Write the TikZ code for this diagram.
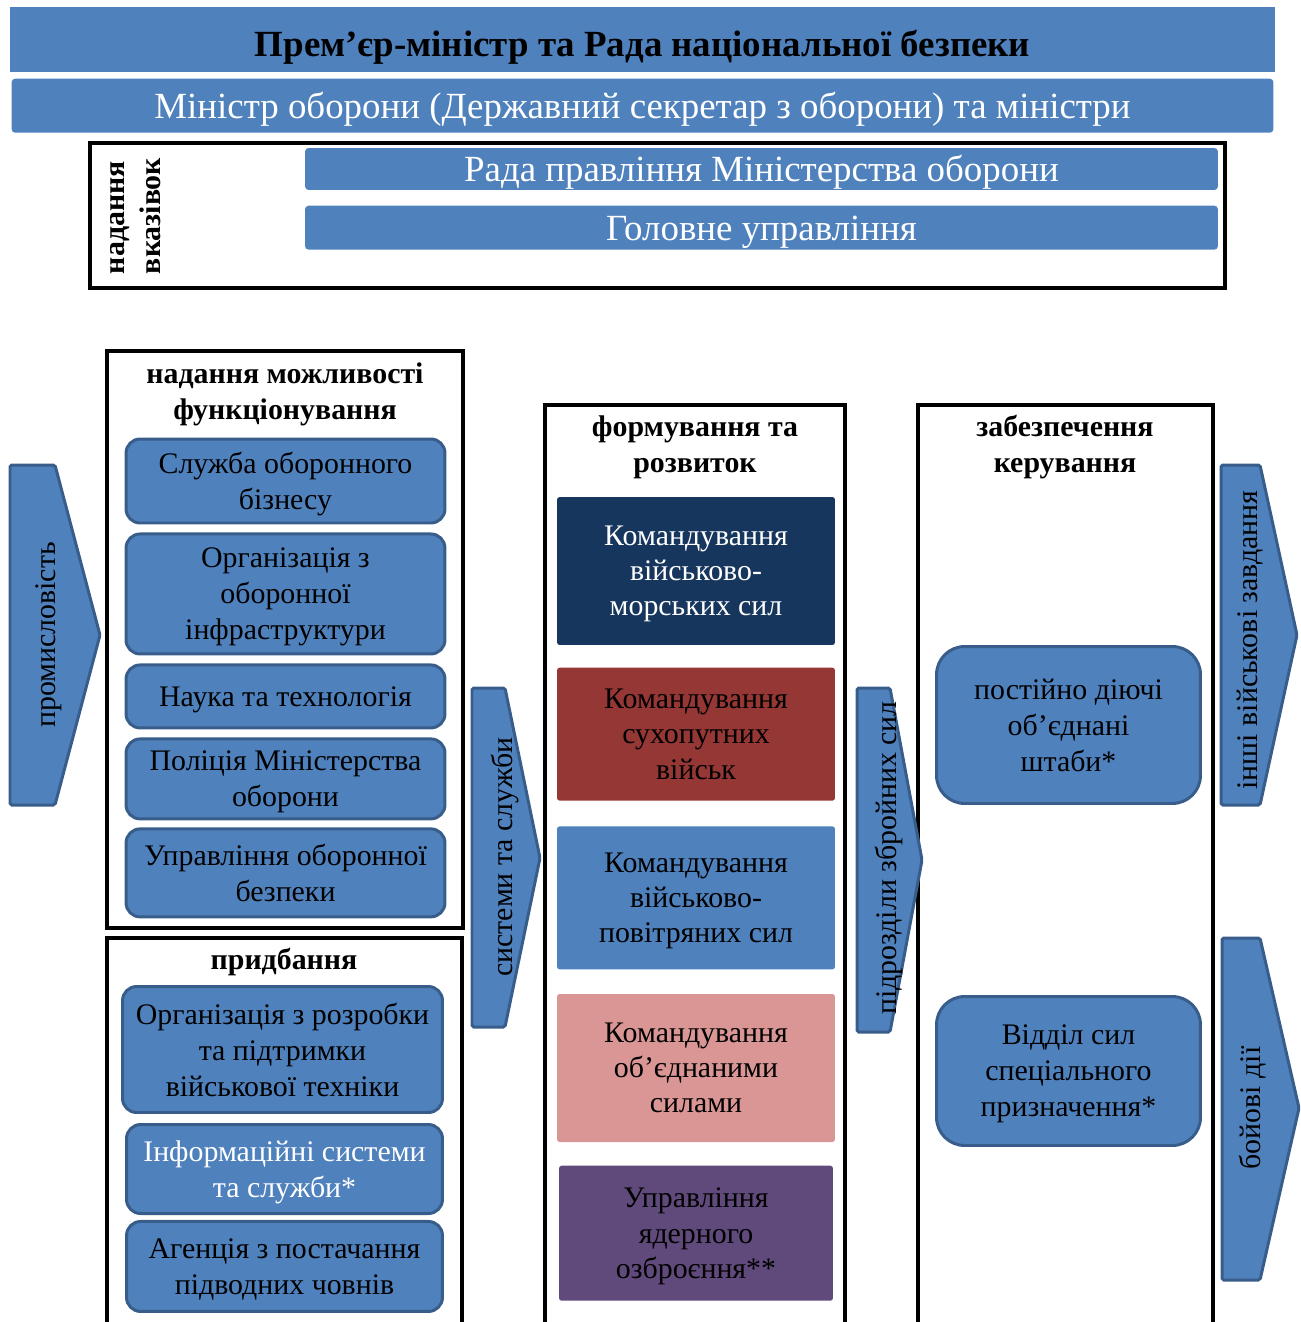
\documentclass[tikz,border=0pt]{standalone}
\usepackage{fontspec}
\setmainfont{Liberation Serif}
\usetikzlibrary{positioning}
\definecolor{barblue}{RGB}{79,129,189}
\definecolor{barline}{RGB}{56,93,138}
\definecolor{navycmd}{RGB}{23,54,93}
\definecolor{armycmd}{RGB}{149,55,53}
\definecolor{jointcmd}{RGB}{217,150,148}
\definecolor{nuclcmd}{RGB}{96,74,123}

\begin{document}
\begin{tikzpicture}[x=0.02cm, y=-0.02cm,
  bar/.style={rectangle, fill=barblue, rounded corners=2pt, text=white,
              font=\fontsize{21}{25}\selectfont, inner sep=0pt,
              text height=16pt, text depth=1.5pt},
  frame/.style={draw=black, line width=2.2pt},
  head/.style={font=\fontsize{17}{20.5}\selectfont\bfseries, align=center},
  unit/.style={rectangle, draw=barline, line width=1.7pt, fill=barblue,
               rounded corners=8pt, align=center, inner sep=2pt, text depth=0pt,
               font=\fontsize{17}{20.5}\selectfont, minimum width=6.38cm},
  cmd/.style={rectangle, rounded corners=1.5pt, align=center, text depth=0pt,
              font=\fontsize{17}{20}\selectfont, minimum width=5.56cm},
  hq/.style={unit, rounded corners=16pt, minimum width=5.28cm},
  flow/.style={draw=barline, line width=1.7pt, fill=barblue, rounded corners=1pt},
  flowtext/.style={rotate=90, font=\fontsize{17}{20.5}\selectfont}
]
  \useasboundingbox (0,0) rectangle (1301,1322);

  % ── TOP: government ──
  \node[bar, rounded corners=0pt, text=black, font=\fontsize{21}{25}\selectfont\bfseries,
        text height=19pt, text depth=0pt,
        minimum width=25.3cm, minimum height=1.3cm] (pm) at (642.5,39.5)
        {Прем’єр-міністр та Рада національної безпеки};
  \node[bar, minimum width=25.24cm, minimum height=1.08cm, below=0.12cm of pm] (mo)
        {Міністр оборони (Державний секретар з оборони) та міністри};

  \draw[frame] (90,143) rectangle (1225,288);
  \node[bar, minimum width=18.26cm, minimum height=0.84cm] (rada) at (761.5,169)
        {Рада правління Міністерства оборони};
  \node[bar, minimum width=18.26cm, minimum height=0.88cm, below=0.3cm of rada] (gu)
        {Головне управління};
  \node[head, rotate=90, align=left] (instr) at (136,216) {надання\\вказівок};

  % ── LEFT: enabling ──
  \draw[frame] (107,351) rectangle (463,928);
  \node[head] (enab) at (285,394) {надання можливості\\функціонування};
  \node[unit, minimum height=1.68cm] (bus) at (285.5,481) {Служба оборонного\\бізнесу};
  \node[unit, minimum height=2.40cm, below=0.16cm of bus] (infra) {Організація з\\оборонної\\інфраструктури};
  \node[unit, minimum height=1.26cm, below=0.16cm of infra] (sci) {Наука та технологія};
  \node[unit, minimum height=1.60cm, below=0.16cm of sci] (pol) {Поліція Міністерства\\оборони};
  \node[unit, minimum height=1.76cm, below=0.14cm of pol] (sec) {Управління оборонної\\безпеки};

  % ── LEFT: acquisition ──
  \draw[frame] (107,938) rectangle (462,1340);
  \node[head] (acq) at (284,962) {придбання};
  \node[unit, minimum width=6.40cm, minimum height=2.52cm] (equip) at (282.5,1049.5)
        {Організація з розробки\\та підтримки\\військової техніки};
  \node[unit, minimum width=6.32cm, minimum height=1.78cm, text=white] (info) at (284.5,1169)
        {Інформаційні системи\\та служби*};
  \node[unit, minimum width=6.32cm, minimum height=1.80cm, below=0.1cm of info] (subm)
        {Агенція з постачання\\підводних човнів};

  % ── MIDDLE: generating ──
  \draw[frame] (545,405) rectangle (845,1340);
  \node[head] (form) at (695,447) {формування та\\розвиток};
  \node[cmd, fill=navycmd, text=white, minimum height=2.96cm] (navy) at (696,571)
        {Командування\\військово-\\морських сил};
  \node[cmd, fill=armycmd, minimum height=2.66cm, below=0.44cm of navy] (army)
        {Командування\\сухопутних\\військ};
  \node[cmd, fill=barblue, minimum height=2.86cm, below=0.5cm of army] (air)
        {Командування\\військово-\\повітряних сил};
  \node[cmd, fill=jointcmd, minimum height=2.96cm, below=0.48cm of air] (joint)
        {Командування\\об’єднаними\\силами};
  \node[cmd, fill=nuclcmd, minimum width=5.48cm, minimum height=2.7cm, below=0.46cm of joint] (nucl)
        {Управління\\ядерного\\озброєння**};

  % ── RIGHT: directing ──
  \draw[frame] (918,405) rectangle (1213,1340);
  \node[head] (ctrl) at (1065,447) {забезпечення\\керування};
  \node[hq, minimum height=3.14cm] (pjhq) at (1068.5,725) {постійно діючі\\об’єднані\\штаби*};
  \node[hq, minimum height=2.98cm] (sf) at (1068.5,1071) {Відділ сил\\спеціального\\призначення*};

  % flow arrows
  \draw[flow] (10,465) -- (55,465) -- (100,635) -- (55,805) -- (10,805) -- cycle;
  \node[flowtext] (ind) at (49,635) {промисловість};
  \draw[flow] (472,688) -- (505,688) -- (540,858) -- (505,1027) -- (472,1027) -- cycle;
  \node[flowtext] (sys) at (505,857) {системи та служби};
  \draw[flow] (857,688) -- (890,688) -- (922,860) -- (890,1032) -- (857,1032) -- cycle;
  \node[flowtext] (forces) at (889,858) {підрозділи збройних сил};
  \draw[flow] (1221,465) -- (1260,465) -- (1297,635) -- (1260,805) -- (1221,805) -- cycle;
  \node[flowtext] (tasks) at (1250,640) {інші військові завдання};
  \draw[flow] (1222,938) -- (1260,938) -- (1299,1108) -- (1260,1280) -- (1222,1280) -- cycle;
  \node[flowtext] (combat) at (1253,1108) {бойові дії};
\end{tikzpicture}
\end{document}
